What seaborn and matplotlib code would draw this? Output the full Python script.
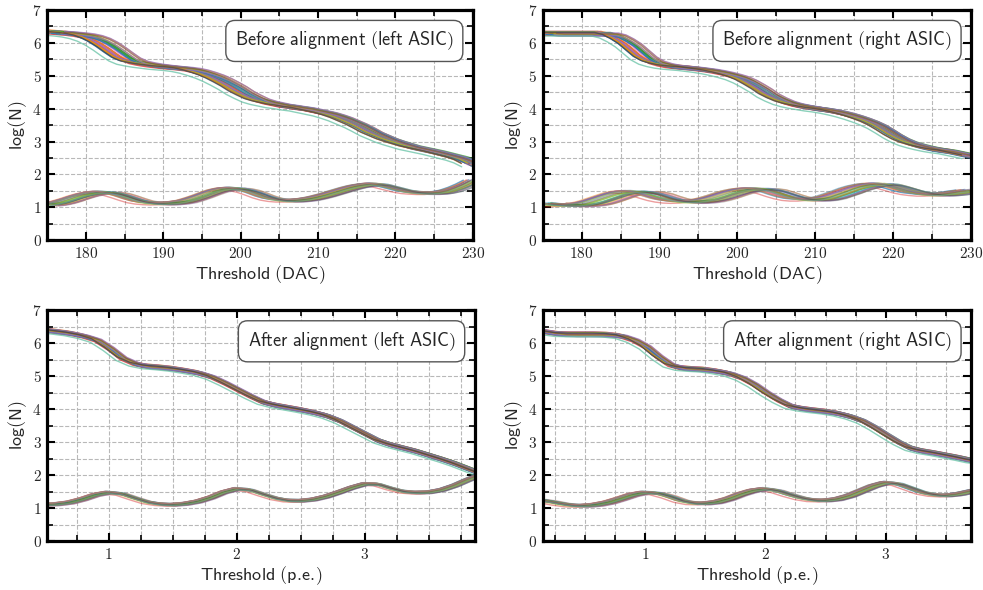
import numpy as np
import pandas as pd
import matplotlib
matplotlib.use("Agg")
import matplotlib.pyplot as plt
import seaborn as sns
from matplotlib.ticker import MultipleLocator, FuncFormatter

sns.set_style("ticks")
plt.rcParams["mathtext.fontset"] = "cm"
plt.rcParams["font.family"] = ["DejaVu Sans"]

# thresholds
dac = np.arange(175, 231)             # 175 ... 230 DAC
pe_left = np.round(np.arange(0.5, 3.95, 0.1), 2)   # 0.5 ... 3.9 p.e.
pe_right = np.round(np.arange(0.1, 3.85, 0.1), 2)  # 0.1 ... 3.8 p.e.

# log(N) (bundle centre)
before_left_high = [6.33, 6.32, 6.30, 6.28, 6.25, 6.20, 6.12, 6.00, 5.85, 5.68, 5.52, 5.42, 5.37, 5.33,
                    5.30, 5.27, 5.25, 5.23, 5.20, 5.15, 5.08, 5.00, 4.90, 4.78, 4.65, 4.50, 4.38, 4.27,
                    4.20, 4.15, 4.10, 4.07, 4.03, 4.00, 3.95, 3.90, 3.85, 3.78, 3.70, 3.60, 3.50, 3.38,
                    3.25, 3.15, 3.05, 2.97, 2.90, 2.83, 2.78, 2.73, 2.68, 2.62, 2.56, 2.50, 2.42, 2.30]
before_left_low = [1.08, 1.10, 1.15, 1.22, 1.30, 1.37, 1.42, 1.45, 1.44, 1.40, 1.33, 1.25, 1.18, 1.14,
                   1.12, 1.11, 1.12, 1.14, 1.18, 1.25, 1.33, 1.42, 1.50, 1.55, 1.57, 1.55, 1.50, 1.42,
                   1.33, 1.26, 1.22, 1.20, 1.20, 1.22, 1.25, 1.30, 1.36, 1.43, 1.50, 1.57, 1.63, 1.67,
                   1.70, 1.68, 1.62, 1.56, 1.50, 1.46, 1.44, 1.43, 1.43, 1.45, 1.50, 1.58, 1.68, 1.80]
before_right_high = [6.30, 6.28, 6.28, 6.28, 6.28, 6.28, 6.28, 6.28, 6.28, 6.22, 6.10, 5.95, 5.75, 5.55,
                     5.42, 5.35, 5.30, 5.27, 5.25, 5.23, 5.20, 5.17, 5.13, 5.08, 5.02, 4.95, 4.85, 4.72,
                     4.58, 4.42, 4.30, 4.20, 4.13, 4.08, 4.04, 4.00, 3.97, 3.93, 3.88, 3.82, 3.75, 3.67,
                     3.58, 3.47, 3.33, 3.18, 3.05, 2.95, 2.88, 2.82, 2.77, 2.73, 2.70, 2.65, 2.60, 2.55]
before_right_low = [1.12, 1.09, 1.07, 1.06, 1.06, 1.07, 1.10, 1.16, 1.24, 1.32, 1.40, 1.45, 1.47, 1.45,
                    1.40, 1.32, 1.25, 1.20, 1.17, 1.16, 1.17, 1.20, 1.25, 1.32, 1.40, 1.47, 1.52, 1.55,
                    1.55, 1.52, 1.45, 1.37, 1.30, 1.25, 1.23, 1.23, 1.25, 1.30, 1.38, 1.46, 1.55, 1.62,
                    1.67, 1.70, 1.68, 1.62, 1.55, 1.48, 1.43, 1.40, 1.38, 1.38, 1.40, 1.43, 1.47, 1.50]
after_left_high = [6.40, 6.35, 6.30, 6.22, 6.10, 5.85, 5.55, 5.38, 5.30, 5.27, 5.23, 5.17, 5.10, 4.98,
                   4.80, 4.60, 4.40, 4.22, 4.12, 4.05, 3.98, 3.90, 3.80, 3.65, 3.45, 3.25, 3.05, 2.92,
                   2.82, 2.72, 2.60, 2.48, 2.35, 2.20, 2.05]
after_left_low = [1.10, 1.12, 1.17, 1.27, 1.40, 1.47, 1.43, 1.30, 1.18, 1.12, 1.10, 1.13, 1.20, 1.32,
                  1.48, 1.58, 1.55, 1.42, 1.30, 1.23, 1.22, 1.26, 1.35, 1.48, 1.62, 1.73, 1.72, 1.60,
                  1.50, 1.47, 1.48, 1.55, 1.68, 1.85, 2.00]
after_right_high = [6.40, 6.33, 6.28, 6.27, 6.27, 6.27, 6.26, 6.22, 6.10, 5.90, 5.60, 5.35, 5.25, 5.22,
                    5.20, 5.15, 5.08, 4.95, 4.75, 4.50, 4.28, 4.10, 4.02, 3.97, 3.93, 3.87, 3.78, 3.65,
                    3.45, 3.22, 3.00, 2.82, 2.73, 2.67, 2.60, 2.53, 2.45, 2.40]
after_right_low = [1.25, 1.20, 1.13, 1.08, 1.07, 1.10, 1.17, 1.28, 1.40, 1.47, 1.45, 1.35, 1.22, 1.15,
                   1.14, 1.18, 1.28, 1.42, 1.53, 1.58, 1.52, 1.40, 1.30, 1.24, 1.23, 1.27, 1.37, 1.52,
                   1.67, 1.77, 1.73, 1.60, 1.47, 1.40, 1.38, 1.42, 1.50, 1.58]

# per-channel spread around the bundle centre (32 channels), in units of the panel spread
channel_shift = [-1.2, 0.4, 0.9, -0.3, 1.3, -0.8, 0.1, 0.6, -1.5, 0.2, 1.0, -0.5, 0.7, -0.1, 1.4, -1.0,
                 0.3, -0.7, 1.1, -0.2, 0.5, -1.3, 0.8, 0.0, -0.6, 1.2, -0.4, 0.9, -0.9, 0.2, 1.5, -1.1]
channel_lift = [0.05, -0.03, 0.00, 0.06, -0.06, 0.02, -0.01, 0.04, -0.07, 0.03, -0.04, 0.07, 0.01, -0.05,
                0.02, 0.05, -0.02, 0.06, -0.03, 0.00, -0.06, 0.04, 0.03, -0.04, 0.07, -0.01, 0.01, -0.07,
                0.05, -0.02, 0.00, 0.03]
channel_gain = [0.6, -0.9, 0.2, 1.0, -0.4, 0.8, -1.0, -0.2, 0.5, -0.7, 0.9, 0.0, -0.5, 0.7, -0.8, 0.3,
                -0.1, 1.0, -0.6, 0.4, -0.9, 0.1, 0.6, -0.3, 0.8, -1.0, 0.2, -0.4, 0.5, 1.0, -0.7, -0.2]
draw_order = [23, 6, 13, 19, 29, 1, 16, 3, 11, 20, 9, 26, 7, 17, 24, 2, 12, 30, 5, 27, 15, 22, 0,
              10, 28, 18, 4, 31, 14, 25, 21, 8]

panels = [
    ("Before alignment (left ASIC)", dac, before_left_high, before_left_low, 1.2, 1.0, "DAC"),
    ("Before alignment (right ASIC)", dac, before_right_high, before_right_low, 1.0, 1.6, "DAC"),
    ("After alignment (left ASIC)", pe_left, after_left_high, after_left_low, 0.025, 0.025, "p.e."),
    ("After alignment (right ASIC)", pe_right, after_right_high, after_right_low, 0.03, 0.04, "p.e."),
]
xlims = [(175, 230), (175, 230), (0.52, 3.86), (0.15, 3.71)]
rects = [[0.048, 0.593, 0.433, 0.390], [0.552, 0.593, 0.436, 0.390],
         [0.048, 0.083, 0.435, 0.391], [0.552, 0.083, 0.436, 0.391]]

tab = sns.color_palette("tab10")
palette = [tab[i % 10] for i in range(32)]
palette[8] = "#66c2a5"    # teal channel running low
palette[30] = "#e6b422"   # golden channel running high
palette[21] = "#37474f"   # dark channel

fig = plt.figure(figsize=(9.83, 5.9), dpi=100)

for (title, xs, high, low, sh_hi, sh_lo, unit), xl, rect in zip(panels, xlims, rects):
    ax = fig.add_axes(rect)
    xs = np.asarray(xs, float)
    span = (xs - xs.mean()) / (xs.max() - xs.min())
    for band, base, sh, alpha in (("high", high, sh_hi, 0.75), ("low", low, sh_lo, 0.45)):
        rows = []
        for ch in draw_order:
            k = ch if band == "high" else 31 - ch
            xv = xs + (channel_shift[k] + channel_gain[k] * span * 1.2) * sh
            yv = np.asarray(base) + channel_lift[k] * (1.0 if band == "high" else 0.6)
            rows.append(pd.DataFrame({"x": xv, "y": yv, "channel": ch}))
        df = pd.concat(rows, ignore_index=True)
        sns.lineplot(data=df, x="x", y="y", hue="channel", hue_order=draw_order, estimator=None,
                     sort=False, palette=[palette[c] for c in draw_order], linewidth=1.0,
                     alpha=alpha, legend=False, ax=ax)

    ax.set_xlim(*xl)
    ax.set_ylim(0, 7)
    ax.yaxis.set_major_locator(MultipleLocator(1))
    ax.yaxis.set_minor_locator(MultipleLocator(0.5))
    if unit == "DAC":
        ax.xaxis.set_major_locator(MultipleLocator(10))
        ax.xaxis.set_minor_locator(MultipleLocator(5))
    else:
        ax.xaxis.set_major_locator(MultipleLocator(1))
        ax.xaxis.set_minor_locator(MultipleLocator(0.25))
    fmt = FuncFormatter(lambda v, p: f"${v:g}$")
    ax.xaxis.set_major_formatter(fmt)
    ax.yaxis.set_major_formatter(fmt)
    ax.grid(True, which="both", linestyle="--", color="#b8b8b8", linewidth=0.8)
    ax.set_axisbelow(True)
    ax.tick_params(which="both", direction="in", top=True, right=True, color="black")
    ax.tick_params(which="major", length=6, width=1.5, labelsize=11, pad=4)
    ax.tick_params(which="minor", length=4, width=1.2)
    for s in ax.spines.values():
        s.set_linewidth(2.3)
        s.set_color("black")
    ax.set_xlabel(r"$\mathsf{Threshold\ (%s)}$" % unit.replace(".", r".\!"), fontsize=13, labelpad=2)
    ax.set_ylabel(r"$\mathsf{log(N)}$", fontsize=13, labelpad=2)
    ax.text(0.955, 0.915, r"$\mathsf{%s}$" % title.replace(" ", r"\ "), transform=ax.transAxes,
            ha="right", va="top", fontsize=13.2,
            bbox=dict(boxstyle="round,pad=0.5", facecolor="white", edgecolor="#555555", linewidth=1.0))

fig.savefig("out.png", dpi=100)
